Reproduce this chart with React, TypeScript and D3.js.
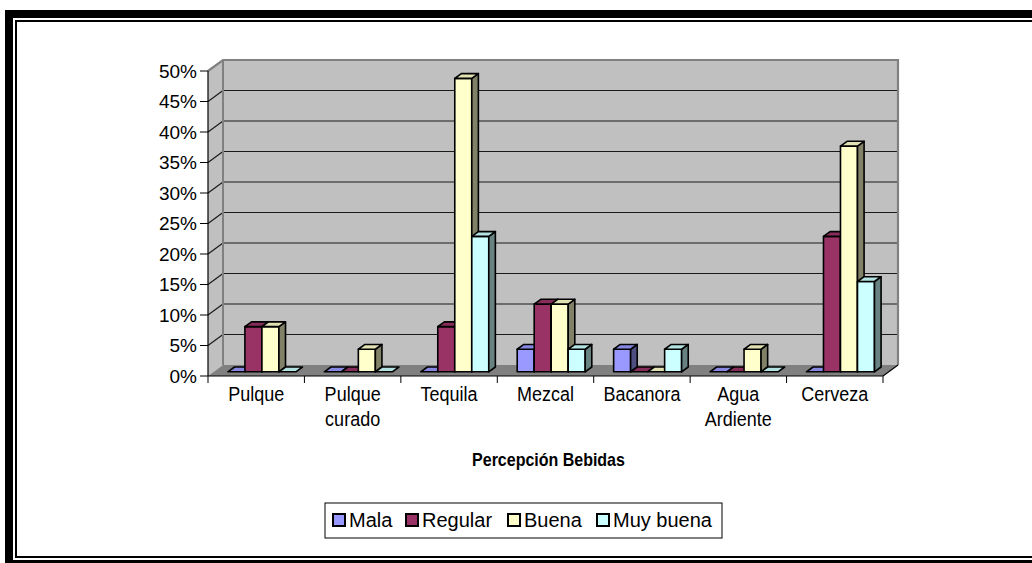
import React from "react";
import * as d3 from "d3";

// ---- data ----
const categories = ["Pulque", "Pulque curado", "Tequila", "Mezcal", "Bacanora", "Agua Ardiente", "Cerveza"];
const seriesNames = ["Mala", "Regular", "Buena", "Muy buena"];
const mala = [0, 0, 0, 3.7, 3.7, 0, 0];
const regular = [7.4, 0, 7.4, 11.1, 0, 0, 22.2];
const buena = [7.4, 3.7, 48.1, 11.1, 0, 3.7, 37.0];
const muyBuena = [0, 0, 22.2, 3.7, 3.7, 0, 14.8];
const yTicks = [0, 5, 10, 15, 20, 25, 30, 35, 40, 45, 50];
const xTitle = "Percepción Bebidas";
const seriesColors = ["#9999FF", "#993366", "#FFFFCC", "#CCFFFF"];

const seriesValues = [mala, regular, buena, muyBuena];

export default function App() {
  const W = 1032, H = 563;
  const x0 = 208, x1 = 883, yBase = 376, yTop = 71;
  const wDx = 15, wDy = -11; // wall depth
  const fDx = 5.7, fDy = -4.2; // bar front offset
  const bDx = 6.6, bDy = -4.8; // bar depth
  const barW = 17;
  const font = "'Liberation Sans', Arial, sans-serif";

  const y = d3.scaleLinear().domain([0, 50]).range([yBase, yTop]);
  const xc = d3.scaleBand<string>().domain(categories).range([x0, x1]).padding(0);
  const xs = d3.scaleBand<string>().domain(seriesNames).range([-2 * barW, 2 * barW]).padding(0);

  const pts = (a: number[][]) => a.map((p) => p.join(",")).join(" ");

  const bars: React.ReactNode[] = [];
  categories.forEach((cat, i) => {
    seriesNames.forEach((s, j) => {
      const v = seriesValues[j][i];
      const left = (xc(cat) as number) + xc.bandwidth() / 2 + (xs(s) as number) + fDx;
      const right = left + barW;
      const yt = y(v) + fDy;
      const yb = y(0) + fDy;
      const c = seriesColors[j];
      const top = d3.color(c)!.darker(0.35).formatHex();
      const side = d3.color(c)!.darker(1.9).formatHex();
      bars.push(
        <g key={`${i}-${j}`} stroke="#000" strokeWidth={1.6} strokeLinejoin="round">
          {v > 0 && <rect x={left} y={yt} width={barW} height={yb - yt} fill={c} />}
          {v > 0 && (
            <polygon points={pts([[right, yt], [right + bDx, yt + bDy], [right + bDx, yb + bDy], [right, yb]])} fill={side} />
          )}
          <polygon points={pts([[left, yt], [right, yt], [right + bDx, yt + bDy], [left + bDx, yt + bDy]])} fill={top} />
        </g>
      );
    });
  });

  const legendX = [333, 406, 508, 597];
  const titleX = (x0 + x1) / 2 + 3;

  return (
    <svg width={W} height={H} style={{ position: "absolute", left: 0, top: 0, background: "#fff" }} fontFamily={font}>
      <rect x={0} y={0} width={W} height={H} fill="#fff" />
      {/* frame */}
      <rect x={5} y={10} width={W} height={8} fill="#000" />
      <rect x={5} y={10} width={8} height={H} fill="#000" />
      <rect x={5} y={560} width={W} height={8} fill="#000" />
      <rect x={15} y={20} width={W} height={2} fill="#000" />
      <rect x={15} y={20} width={2} height={538} fill="#000" />
      <rect x={15} y={556} width={W} height={2} fill="#000" />

      {/* walls */}
      <polygon points={pts([[x0 + wDx, yTop + wDy], [x1 + wDx, yTop + wDy], [x1 + wDx, yBase + wDy], [x0 + wDx, yBase + wDy]])} fill="#C0C0C0" />
      <polygon points={pts([[x0, yTop], [x0 + wDx, yTop + wDy], [x0 + wDx, yBase + wDy], [x0, yBase]])} fill="#C0C0C0" />
      <polygon points={pts([[x0, yBase], [x1, yBase], [x1 + wDx, yBase + wDy], [x0 + wDx, yBase + wDy]])} fill="#808080" />

      {/* gridlines */}
      {yTicks.filter((t) => t > 0 && t < 50).map((t) => (
        <g key={t} stroke="#1a1a1a" strokeWidth={1.2}>
          <line x1={x0 + wDx} x2={x1 + wDx} y1={y(t) + wDy} y2={y(t) + wDy} />
          <line x1={x0} x2={x0 + wDx} y1={y(t)} y2={y(t) + wDy} />
        </g>
      ))}
      {/* wall borders */}
      <polyline points={pts([[x0, yTop], [x0 + wDx, yTop + wDy], [x1 + wDx, yTop + wDy], [x1 + wDx, yBase + wDy]])} fill="none" stroke="#808080" strokeWidth={2.2} />
      <line x1={x0 + wDx} x2={x0 + wDx} y1={yTop + wDy} y2={yBase + wDy} stroke="#808080" strokeWidth={2} />
      <line x1={x1} y1={yBase} x2={x1 + wDx} y2={yBase + wDy} stroke="#000" strokeWidth={1.2} />

      {bars}

      {/* axes */}
      <line x1={x0} x2={x0} y1={yTop} y2={yBase} stroke="#000" strokeWidth={1.2} />
      <line x1={x0} x2={x1} y1={yBase} y2={yBase} stroke="#000" strokeWidth={1.2} />
      {yTicks.map((t) => (
        <g key={t}>
          <line x1={x0 - 8} x2={x0} y1={y(t)} y2={y(t)} stroke="#000" strokeWidth={1} />
          <text x={x0 - 11} y={y(t)} dy="0.35em" textAnchor="end" fontSize={19} fill="#000">{`${t}%`}</text>
        </g>
      ))}
      {categories.map((c) => (
        <line key={c} x1={xc(c) as number} x2={xc(c) as number} y1={yBase} y2={yBase + 7} stroke="#000" strokeWidth={1} />
      ))}
      <line x1={x1} x2={x1} y1={yBase} y2={yBase + 7} stroke="#000" strokeWidth={1} />
      {categories.map((c) => {
        const cx = (xc(c) as number) + xc.bandwidth() / 2;
        return (
          <text key={c} transform={`translate(${cx},401) scale(1,1.12)`} textAnchor="middle" fontSize={18} fill="#000">
            {c.split(" ").map((w, k) => (
              <tspan key={k} x={0} dy={k === 0 ? 0 : 22.5}>{w}</tspan>
            ))}
          </text>
        );
      })}
      <text transform={`translate(${titleX},466) scale(1,1.2)`} textAnchor="middle" fontSize={16} fontWeight="bold" fill="#000">{xTitle}</text>

      {/* legend */}
      <rect x={325} y={503} width={397} height={35} fill="#fff" stroke="#000" strokeWidth={1} />
      {seriesNames.map((s, j) => (
        <g key={s}>
          <rect x={legendX[j]} y={514} width={12} height={12} fill={seriesColors[j]} stroke="#000" strokeWidth={2} />
          <text x={legendX[j] + 16} y={527} fontSize={20} fill="#000">{s}</text>
        </g>
      ))}
    </svg>
  );
}
